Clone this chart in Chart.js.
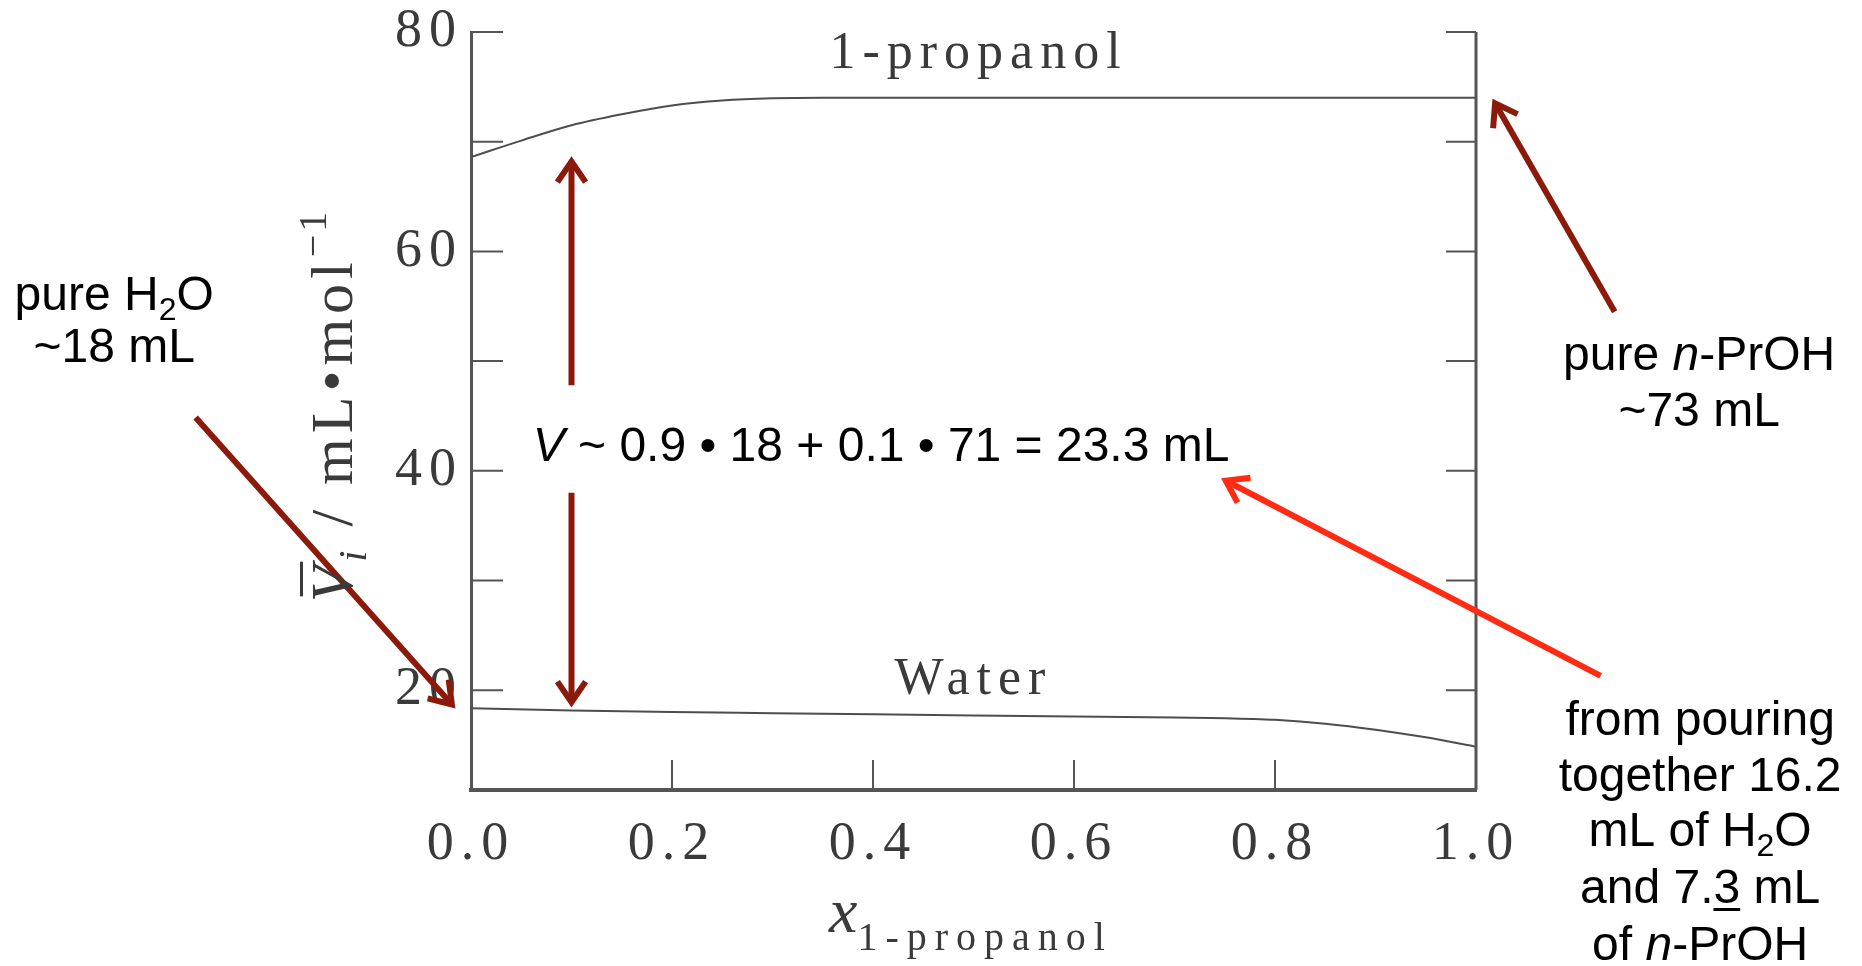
<!DOCTYPE html>
<html>
<head>
<meta charset="utf-8">
<script src="https://cdn.jsdelivr.net/npm/chart.js@4.4.1/dist/chart.umd.min.js"></script>
<style>
  html, body { margin: 0; padding: 0; background: #fff; }
  #wrap { width: 1862px; height: 966px; }
</style>
</head>
<body>
<div id="wrap"><canvas id="chart" width="1862" height="966"></canvas></div>
<script>
// Partial molar volumes in water / 1-propanol mixtures (mL/mol)
const propanolX = [0, 0.05, 0.1, 0.15, 0.2, 0.25, 0.3, 0.35, 0.4, 0.5, 0.6, 0.7, 0.8, 0.9, 1.0];
const propanolV = [68.6, 70.1, 71.5, 72.5, 73.3, 73.75, 73.95, 74.0, 74.0, 74.0, 74.0, 74.0, 74.0, 74.0, 74.0];
const waterX = [0, 0.1, 0.2, 0.3, 0.4, 0.5, 0.6, 0.7, 0.75, 0.8, 0.85, 0.9, 0.95, 1.0];
const waterV = [18.35, 18.15, 18.0, 17.9, 17.8, 17.7, 17.6, 17.5, 17.45, 17.3, 16.95, 16.4, 15.7, 14.85];

const xTicks = [0, 0.2, 0.4, 0.6, 0.8, 1.0];
const yTicks = [20, 30, 40, 50, 60, 70, 80];
const yLabelled = [20, 40, 60, 80];

const SERIF = '"Liberation Serif", "Times New Roman", serif';
const SANS = '"Liberation Sans", Arial, sans-serif';
const AXIS = '#555555';
const INK = '#3a3a3a';
const DARK_RED = '#8c1a0b';
const RED = '#ff2b12';

const font = (size, family, style) => (style ? style + ' ' : '') + size + 'px ' + family;

// annotation layer, positioned in data units so it goes through the scales
const arrows = [
    { from: [-0.274, 44.85], to: [-0.019, 18.7], color: DARK_RED },
    { from: [0.1, 47.8], to: [0.1, 68.2], color: DARK_RED },
    { from: [0.1, 38.0], to: [0.1, 18.9], color: DARK_RED },
    { from: [1.138, 54.5], to: [1.019, 73.5], color: DARK_RED },
    { from: [1.124, 21.3], to: [0.751, 39.1], color: RED }
];

const s48 = font(48, SANS), s48i = font(48, SANS, 'italic'), s32 = font(32, SANS);
const notes = [
    { at: [-0.355, 54.7], runs: [{ t: 'pure H', f: s48 }, { t: '2', f: s32, dy: 10 }, { t: 'O', f: s48 }] },
    { at: [-0.355, 49.95], runs: [{ t: '~18 mL', f: s48 }] },
    { at: [1.222, 49.2], runs: [{ t: 'pure ', f: s48 }, { t: 'n', f: s48i }, { t: '-PrOH', f: s48 }] },
    { at: [1.222, 44.1], runs: [{ t: '~73 mL', f: s48 }] },
    { at: [0.408, 40.85], runs: [{ t: 'V', f: s48i }, { t: ' ~ 0.9 \u2022 18 + 0.1 \u2022 71 = 23.3 mL', f: s48 }] },
    { at: [1.223, 15.95], runs: [{ t: 'from pouring', f: s48 }] },
    { at: [1.223, 10.85], runs: [{ t: 'together 16.2', f: s48 }] },
    { at: [1.223, 5.75], runs: [{ t: 'mL of H', f: s48 }, { t: '2', f: s32, dy: 10 }, { t: 'O', f: s48 }] },
    { at: [1.223, 0.6], runs: [{ t: 'and 7.', f: s48 }, { t: '3', f: s48, underline: true }, { t: ' mL', f: s48 }] },
    { at: [1.223, -4.6], runs: [{ t: 'of ', f: s48 }, { t: 'n', f: s48i }, { t: '-PrOH', f: s48 }] },
    // curve labels and x title, serif, spaced out like the book figure
    { at: [0.505, 76.75], color: INK, runs: [{ t: '1-propanol', f: font(52, SERIF), ls: 7 }] },
    { at: [0.5, 19.65], color: INK, runs: [{ t: 'Water', f: font(52, SERIF), ls: 7 }] },
    { at: [0.4975, -2.0], color: INK, runs: [{ t: 'x', f: font(64, SERIF, 'italic') }, { t: '1-propanol', f: font(40, SERIF), ls: 8, dy: 18 }] }
];
const yTitle = {
    at: [-0.1184, 45.95],
    runs: [
        { t: 'V', f: font(60, SERIF, 'italic'), overline: true, ls: 4 },
        { t: 'i', f: font(40, SERIF, 'italic'), dy: 14, ls: 4 },
        { t: ' / mL\u2022mol', f: font(60, SERIF), ls: 5 },
        { t: '\u22121', f: font(40, SERIF), dy: -26, ls: 3 }
    ]
};

function drawRuns(ctx, runs, x, y) {
    ctx.textAlign = 'left';
    ctx.textBaseline = 'alphabetic';
    const widths = runs.map(r => {
        ctx.font = r.f;
        ctx.letterSpacing = (r.ls || 0) + 'px';
        return ctx.measureText(r.t).width;
    });
    const total = widths.reduce((a, b) => a + b, 0);
    let cx = x - total / 2;
    runs.forEach((r, i) => {
        ctx.font = r.f;
        ctx.letterSpacing = (r.ls || 0) + 'px';
        const by = y + (r.dy || 0);
        ctx.fillText(r.t, cx, by);
        const w = widths[i] - (r.ls || 0);
        if (r.underline) ctx.fillRect(cx, by + 5, w, 3);
        if (r.overline) ctx.fillRect(cx + 6, by - 52, w - 2, 3);
        cx += widths[i];
    });
    ctx.letterSpacing = '0px';
}

function drawArrow(ctx, x1, y1, x2, y2, color) {
    const ang = Math.atan2(y2 - y1, x2 - x1);
    const head = 25, spread = 0.6;
    ctx.save();
    ctx.strokeStyle = color;
    ctx.lineWidth = 6;
    ctx.lineCap = 'butt';
    ctx.lineJoin = 'miter';
    ctx.beginPath();
    ctx.moveTo(x1, y1);
    ctx.lineTo(x2 - 4 * Math.cos(ang), y2 - 4 * Math.sin(ang));
    ctx.stroke();
    ctx.beginPath();
    ctx.moveTo(x2 - head * Math.cos(ang - spread), y2 - head * Math.sin(ang - spread));
    ctx.lineTo(x2, y2);
    ctx.lineTo(x2 - head * Math.cos(ang + spread), y2 - head * Math.sin(ang + spread));
    ctx.stroke();
    ctx.restore();
}

const spacedTicks = {
    id: 'spacedTicks',
    beforeDraw(chart) { chart.ctx.letterSpacing = '7px'; },
    afterDraw(chart) { chart.ctx.letterSpacing = '0px'; }
};

// right axis, inward ticks and all the annotations
const frame = {
    id: 'frame',
    afterDraw(chart) {
        const { ctx, chartArea: a, scales: { x, y } } = chart;
        ctx.save();
        ctx.strokeStyle = AXIS;
        ctx.lineWidth = 3;
        ctx.beginPath();
        ctx.moveTo(a.right, a.top);
        ctx.lineTo(a.right, a.bottom);
        ctx.stroke();
        ctx.lineWidth = 2;
        yTicks.forEach(v => {
            const py = y.getPixelForValue(v);
            ctx.beginPath();
            ctx.moveTo(a.left, py); ctx.lineTo(a.left + 32, py);
            ctx.moveTo(a.right, py); ctx.lineTo(a.right - 30, py);
            ctx.stroke();
        });
        xTicks.slice(1, -1).forEach(v => {
            const px = x.getPixelForValue(v);
            ctx.beginPath();
            ctx.moveTo(px, a.bottom); ctx.lineTo(px, a.bottom - 30);
            ctx.stroke();
        });

        arrows.forEach(ar => drawArrow(ctx,
            x.getPixelForValue(ar.from[0]), y.getPixelForValue(ar.from[1]),
            x.getPixelForValue(ar.to[0]), y.getPixelForValue(ar.to[1]), ar.color));

        notes.forEach(n => {
            ctx.fillStyle = n.color || '#000';
            drawRuns(ctx, n.runs, x.getPixelForValue(n.at[0]), y.getPixelForValue(n.at[1]));
        });

        ctx.translate(x.getPixelForValue(yTitle.at[0]), y.getPixelForValue(yTitle.at[1]));
        ctx.rotate(-Math.PI / 2);
        ctx.fillStyle = INK;
        drawRuns(ctx, yTitle.runs, 0, 0);
        ctx.restore();
    }
};

const toPoints = (xs, ys) => xs.map((v, i) => ({ x: v, y: ys[i] }));

new Chart(document.getElementById('chart'), {
    type: 'line',
    data: {
        datasets: [
            { label: '1-propanol', data: toPoints(propanolX, propanolV) },
            { label: 'Water', data: toPoints(waterX, waterV) }
        ]
    },
    options: {
        responsive: false,
        animation: false,
        devicePixelRatio: 1,
        layout: { padding: { top: 32, right: 386, left: 0, bottom: 0 } },
        elements: {
            line: { borderColor: '#4d4d4d', borderWidth: 2, cubicInterpolationMode: 'monotone', fill: false },
            point: { radius: 0 }
        },
        plugins: { legend: { display: false }, tooltip: { enabled: false } },
        scales: {
            x: {
                type: 'linear',
                min: 0,
                max: 1,
                afterBuildTicks: s => { s.ticks = xTicks.map(v => ({ value: v })); },
                afterFit: s => { s.height = 176; s.paddingLeft = 0; s.paddingRight = 0; },
                grid: { display: false, drawTicks: false },
                border: { display: true, color: AXIS, width: 4 },
                ticks: {
                    padding: 22,
                    color: INK,
                    font: { family: SERIF, size: 54 },
                    maxRotation: 0,
                    autoSkip: false,
                    callback: v => Number(v).toFixed(1)
                }
            },
            y: {
                type: 'linear',
                min: 10.9,
                max: 80,
                afterBuildTicks: s => { s.ticks = yTicks.map(v => ({ value: v })); },
                afterFit: s => { s.width = 471; s.paddingTop = 0; s.paddingBottom = 0; },
                grid: { display: false, drawTicks: false },
                border: { display: true, color: AXIS, width: 3 },
                ticks: {
                    padding: 8,
                    color: INK,
                    font: { family: SERIF, size: 54 },
                    autoSkip: false,
                    callback: v => yLabelled.includes(v) ? String(v) : ''
                }
            }
        }
    },
    plugins: [spacedTicks, frame]
});
</script>
</body>
</html>
